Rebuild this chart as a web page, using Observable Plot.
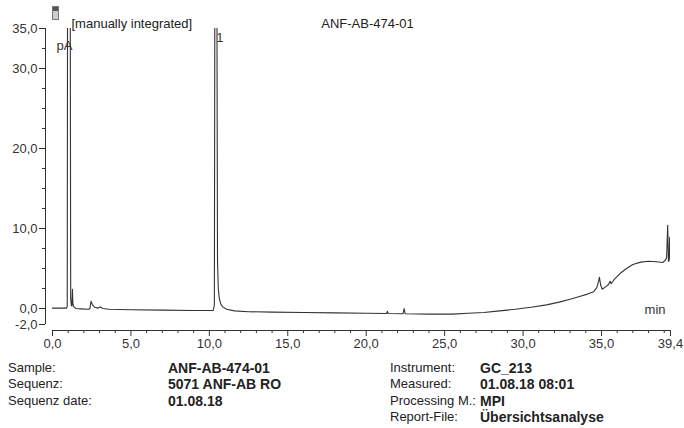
<!DOCTYPE html>
<html><head><meta charset="utf-8">
<script src="https://cdn.jsdelivr.net/npm/d3@7"></script>
<script src="https://cdn.jsdelivr.net/npm/@observablehq/plot@0.6"></script>
<style>
body{margin:0;background:#fff;font-family:"Liberation Sans",Arial,sans-serif;color:#222}
#wrap{position:relative;width:684px;height:428px;overflow:hidden}
#icon{position:absolute;left:52px;top:6px;width:5px;height:12px;border:1px solid #777;background:linear-gradient(#555 0 35%,#ccc 35% 100%)}
#info{position:absolute;left:0;top:355px;width:684px;height:73px;font-size:13px}
#info div{position:absolute;white-space:nowrap;line-height:16px}
.b{font-weight:bold;font-size:14px}
</style></head><body>
<div id="wrap"><div id="chart"></div><div id="icon"></div><div id="info"></div></div>
<script>
const title = "ANF-AB-474-01";
const note = "[manually integrated]";
const yUnit = "pA";
const xUnit = "min";

// retention time (min) and detector signal (pA)
const time = [0.00,0.50,0.90,0.94,0.96,1.13,1.16,1.20,1.24,1.27,1.30,1.36,1.50,1.80,2.20,2.38,2.46,2.55,2.70,2.90,3.05,3.20,3.60,5.00,7.00,9.00,10.25,10.32,10.35,10.48,10.52,10.57,10.63,10.72,10.85,11.10,11.60,12.50,14.00,16.00,18.00,20.00,21.30,21.35,21.40,22.35,22.42,22.48,24.00,25.50,26.50,27.50,28.50,29.50,30.50,31.50,32.30,33.00,33.60,34.10,34.50,34.70,34.80,34.87,34.95,35.05,35.25,35.45,35.55,35.62,35.80,36.20,36.60,37.00,37.50,38.00,38.50,38.90,39.05,39.15,39.22,39.27,39.31,39.35,39.40];
const signal = [0.05,0.05,0.05,0.3,40,40,1.2,0.4,0.3,2.4,0.6,0.2,0.0,-0.05,-0.1,-0.05,0.9,0.45,0.15,0.05,0.2,0.0,-0.1,-0.15,-0.2,-0.25,-0.25,0.5,40,40,6,2.5,1.3,0.6,0.2,-0.1,-0.3,-0.4,-0.45,-0.5,-0.55,-0.6,-0.62,-0.35,-0.62,-0.65,0.0,-0.65,-0.7,-0.7,-0.6,-0.5,-0.3,-0.1,0.15,0.45,0.8,1.15,1.5,1.8,2.1,2.6,3.3,3.9,2.9,2.4,2.7,3.0,3.4,3.1,3.6,4.4,5.0,5.5,5.8,5.9,5.85,5.75,6.0,6.3,10.4,5.9,6.0,8.9,5.8];

const peakNames = ["1"];
const peakTimes = [10.42];

const xMajorTicks = [0, 5, 10, 15, 20, 25, 30, 35, 39.4];
const xMinorTicks = [1,2,3,4,6,7,8,9,11,12,13,14,16,17,18,19,21,22,23,24,26,27,28,29,31,32,33,34,36,37,38,39];
const yMajorTicks = [-2, 0, 10, 20, 30, 35];
const yMinorTicks = [2.5, 5, 7.5, 12.5, 15, 17.5, 22.5, 25, 27.5, 32.5];
const xDomain = [0, 39.4];
const yDomain = [-2.75, 35];

const infoLeftLabels = ["Sample:", "Sequenz:", "Sequenz date:"];
const infoLeftValues = ["ANF-AB-474-01", "5071 ANF-AB RO", "01.08.18"];
const infoRightLabels = ["Instrument:", "Measured:", "Processing M.:", "Report-File:"];
const infoRightValues = ["GC_213", "01.08.18 08:01", "MPI", "Übersichtsanalyse"];

const fmt = d => d.toFixed(1).replace(".", ",");
const data = time.map((t, i) => ({t, v: signal[i]}));
const peaks = peakNames.map((name, i) => ({name, t: peakTimes[i]}));
const ink = "#333";

const chart = Plot.plot({
  width: 684, height: 355,
  marginTop: 28, marginLeft: 52, marginRight: 14, marginBottom: 25,
  style: {fontFamily: "'Liberation Sans', Arial, sans-serif", fontSize: "13px", color: ink, background: "#fff"},
  x: {domain: xDomain},
  y: {domain: yDomain},
  marks: [
    Plot.ruleY([yDomain[0]], {x1: xDomain[0], x2: xDomain[1], stroke: ink}),
    Plot.axisX({ticks: xMajorTicks, tickSize: 6, tickPadding: 2, tickFormat: fmt, label: null, stroke: ink, fill: ink}),
    Plot.axisX({ticks: xMinorTicks, tickSize: 3, tickFormat: () => "", label: null, stroke: ink}),
    Plot.ruleX([xDomain[0]], {y1: yMajorTicks[0], y2: yMajorTicks[yMajorTicks.length - 1], dx: -7, stroke: ink}),
    Plot.axisY({ticks: yMajorTicks, tickSize: 6, tickPadding: 2, dx: -7, tickFormat: fmt, label: null, stroke: ink, fill: ink}),
    Plot.axisY({ticks: yMinorTicks, tickSize: 3, dx: -7, tickFormat: () => "", label: null, stroke: ink}),
    Plot.line(data, {x: "t", y: "v", stroke: ink, strokeWidth: 1.1, clip: true}),
    Plot.text(peaks, {x: "t", y: () => yDomain[1], text: "name", dx: 4, dy: 9, fill: ink}),
    Plot.text([yUnit], {frameAnchor: "top-left", textAnchor: "start", dx: 4, dy: 12, fill: ink}),
    Plot.text([xUnit], {frameAnchor: "bottom-right", textAnchor: "end", dx: -5, dy: -17, fill: ink}),
    Plot.text([title], {frameAnchor: "top", dx: 6, dy: -10, fill: "#222", fontSize: 13}),
    Plot.text([note], {frameAnchor: "top-left", textAnchor: "start", dx: 19, dy: -10, fill: "#222", fontSize: 13})
  ]
});
document.getElementById("chart").appendChild(chart);

const info = document.getElementById("info");
const rowTops = [5, 21, 38, 54];
function addCol(list, left, bold) {
  list.forEach((s, i) => {
    const d = document.createElement("div");
    d.textContent = s;
    d.style.left = left + "px";
    d.style.top = rowTops[i] + "px";
    if (bold) d.className = "b";
    info.appendChild(d);
  });
}
addCol(infoLeftLabels, 8, false);
addCol(infoLeftValues, 168, true);
addCol(infoRightLabels, 390, false);
addCol(infoRightValues, 480, true);
</script>
</body></html>
